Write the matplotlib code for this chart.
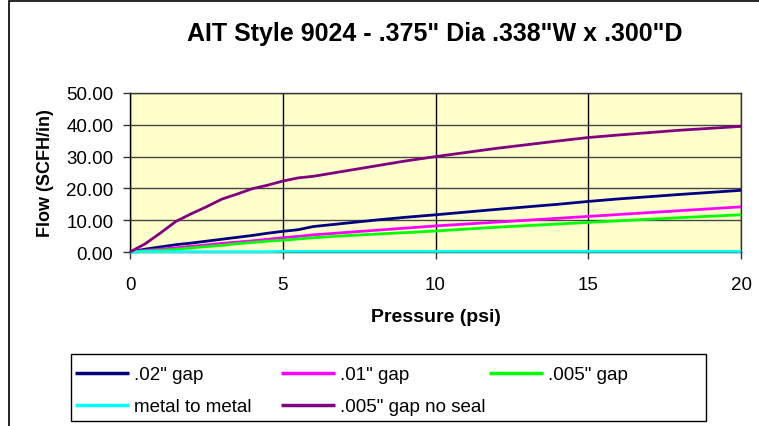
import matplotlib
matplotlib.use("Agg")
import matplotlib.pyplot as plt
from matplotlib.patches import Rectangle

plt.rcParams['font.family'] = ['Liberation Sans', 'DejaVu Sans']

# Data (pressure psi -> flow SCFH/in)
pressure = [0, 0.5, 1, 1.5, 2, 2.5, 3, 3.5, 4, 4.5, 5, 5.5, 6, 7, 8, 9, 10, 12, 14, 15, 16, 18, 20]
gap_02 = [0, 0.9, 1.6, 2.3, 2.8, 3.4, 4.0, 4.6, 5.2, 5.9, 6.5, 7.0, 8.0, 9.0, 10.0, 10.9, 11.7, 13.4, 15.0, 15.9, 16.7, 18.1, 19.4]
gap_01 = [0, 0.5, 0.9, 1.3, 1.8, 2.2, 2.7, 3.1, 3.5, 4.0, 4.5, 4.9, 5.4, 6.1, 6.8, 7.5, 8.2, 9.4, 10.6, 11.2, 11.8, 13.0, 14.2]
gap_005 = [0, 0.3, 0.5, 0.8, 1.3, 1.7, 2.1, 2.6, 3.0, 3.4, 3.7, 4.1, 4.5, 5.1, 5.6, 6.1, 6.6, 7.8, 8.8, 9.3, 9.8, 10.8, 11.7]
metal = [0, 0.1, 0.1, 0.1, 0.1, 0.1, 0.1, 0.1, 0.1, 0.1, 0.2, 0.2, 0.2, 0.2, 0.2, 0.2, 0.2, 0.2, 0.2, 0.2, 0.2, 0.2, 0.2]
gap_005_noseal = [0, 2.6, 6.0, 9.6, 12.0, 14.2, 16.6, 18.2, 19.9, 21.0, 22.3, 23.3, 23.8, 25.4, 27.0, 28.6, 30.0, 32.6, 34.9, 36.0, 36.8, 38.3, 39.5]

series = [
    (".02\" gap", gap_02, "#000080"),
    (".01\" gap", gap_01, "#FF00FF"),
    (".005\" gap", gap_005, "#00FF00"),
    ("metal to metal", metal, "#00FFFF"),
    (".005\" gap no seal", gap_005_noseal, "#800080"),
]

yticks = [0, 10, 20, 30, 40, 50]
xticks = [0, 5, 10, 15, 20]

W, H = 759, 427
fig = plt.figure(figsize=(W / 100, H / 100), dpi=100)

def fx(px):
    return px / W

def fy(py):
    return 1 - py / H

ax = fig.add_axes([fx(130), fy(253), fx(741) - fx(130), fy(94) - fy(253)])
ax.set_facecolor("#FFFFCC")

handles = {}
for label, vals, color in series:
    ln, = ax.plot(pressure, vals, color=color, lw=2.0, label=label, solid_capstyle='butt', zorder=3, clip_on=False)
    handles[label] = ln

ax.set_xlim(0, 20)
ax.set_ylim(0, 50)
ax.set_yticks(yticks)
ax.set_yticklabels([f"{v:.2f}" for v in yticks])
ax.set_xticks(xticks)
ax.set_xticklabels([str(v) for v in xticks])
ax.tick_params(axis='both', labelsize=13.5, direction='out', length=5, width=1, color='#333333')
ax.tick_params(axis='y', pad=7)
ax.tick_params(axis='x', pad=12)
ax.grid(axis='y', color='#444444', lw=1)
ax.grid(axis='x', color='#000000', lw=1)
ax.set_axisbelow(True)
for side, sp in ax.spines.items():
    sp.set_color('#333333' if side in ('top', 'right') else '#000000')
    sp.set_linewidth(1)

ax.set_xlabel("Pressure (psi)", fontsize=14, fontweight='bold', labelpad=11)
ax.set_ylabel("Flow (SCFH/in)", fontsize=13, fontweight='bold', labelpad=9)

fig.text(fx(435), fy(34), "AIT Style 9024 - .375\" Dia .338\"W x .300\"D",
         fontsize=18, fontweight='bold', ha='center', va='center')

# Outer chart border
fig.add_artist(Rectangle((fx(9), fy(500)), 1.0, fy(2) - fy(500), transform=fig.transFigure,
                         fill=False, edgecolor='black', lw=1.2))

# Legend box
fig.add_artist(Rectangle((fx(71), fy(422)), fx(706) - fx(71), fy(355) - fy(422), transform=fig.transFigure,
                         fill=False, edgecolor='black', lw=1))

cols = [
    ([".02\" gap", "metal to metal"], 75),
    ([".01\" gap", ".005\" gap no seal"], 281),
    ([".005\" gap"], 489),
]
for labels, x0 in cols:
    leg = fig.legend([handles[l] for l in labels], labels, loc='upper left',
                     bbox_to_anchor=(fx(x0), fy(367)), frameon=False, fontsize=13.5,
                     handlelength=2.9, handletextpad=0.25, labelspacing=0.8,
                     borderpad=0, borderaxespad=0)
    for h in leg.legend_handles:
        h.set_linewidth(2.5)

fig.savefig("out.png", dpi=100, facecolor='white')
